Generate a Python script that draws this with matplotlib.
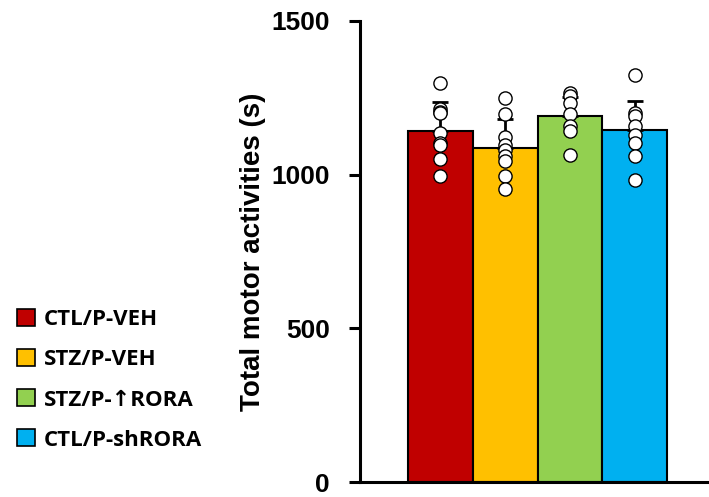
import matplotlib.pyplot as plt
import numpy as np
from matplotlib.patches import Patch
from matplotlib.font_manager import FontProperties

groups = ['CTL/P-VEH', 'STZ/P-VEH', 'STZ/P-\u2191RORA', 'CTL/P-shRORA']
colors = ['#C00000', '#FFC000', '#92D050', '#00B0F0']
means = [1142, 1087, 1190, 1145]
sds = [93, 94, 62, 94]

pts_ctl_veh = [1297, 1213, 1205, 1200, 1135, 1102, 1097, 1052, 995]
pts_stz_veh = [1248, 1197, 1122, 1097, 1081, 1059, 1043, 994, 953]
pts_stz_rora = [1265, 1255, 1232, 1197, 1157, 1143, 1063]
pts_ctl_sh = [1324, 1202, 1189, 1159, 1129, 1102, 1062, 983]
points = [pts_ctl_veh, pts_stz_veh, pts_stz_rora, pts_ctl_sh]

fig = plt.figure(figsize=(7.09, 4.97), dpi=100)
ax = fig.add_axes([0.508, 0.030, 0.492, 0.928])

x = np.arange(len(groups))
ax.bar(x, means, width=1.0, color=colors, edgecolor='black', linewidth=1.5, zorder=2)
ax.errorbar(x, means, yerr=[[0] * len(sds), sds], fmt='none', ecolor='black',
            elinewidth=2, capsize=6, capthick=2, zorder=3)
for i, vals in enumerate(points):
    ax.plot([x[i]] * len(vals), vals, 'o', ms=9.5, mfc='white', mec='black',
            mew=1.0, zorder=4, clip_on=False)

ax.set_xlim(-1.23, 4.14)
ax.set_ylim(0, 1500)
ax.set_yticks([0, 500, 1000, 1500])
ax.set_xticks([])
for s in ['top', 'right']:
    ax.spines[s].set_visible(False)
for s in ['left', 'bottom']:
    ax.spines[s].set_linewidth(2.2)
ax.tick_params(axis='y', length=8, width=2.2, pad=14)
for lab in ax.get_yticklabels():
    lab.set_fontfamily('Liberation Sans')
    lab.set_fontweight('bold')
    lab.set_fontsize(19)
ax.set_ylabel('Total motor activities (s)', fontsize=20, fontweight='bold',
              family='Liberation Sans', labelpad=4)

handles = [Patch(facecolor=c, edgecolor='black', linewidth=1.2) for c in colors]
prop = FontProperties(family=['Open Sans', 'DejaVu Sans'], weight='bold', size=16)
fig.legend(handles, groups, loc='upper left', bbox_to_anchor=(0.012, 0.396),
           frameon=False, prop=prop, handlelength=0.8, handleheight=0.8,
           handletextpad=0.4, labelspacing=0.85, borderaxespad=0)

fig.savefig('out.png', dpi=100)
